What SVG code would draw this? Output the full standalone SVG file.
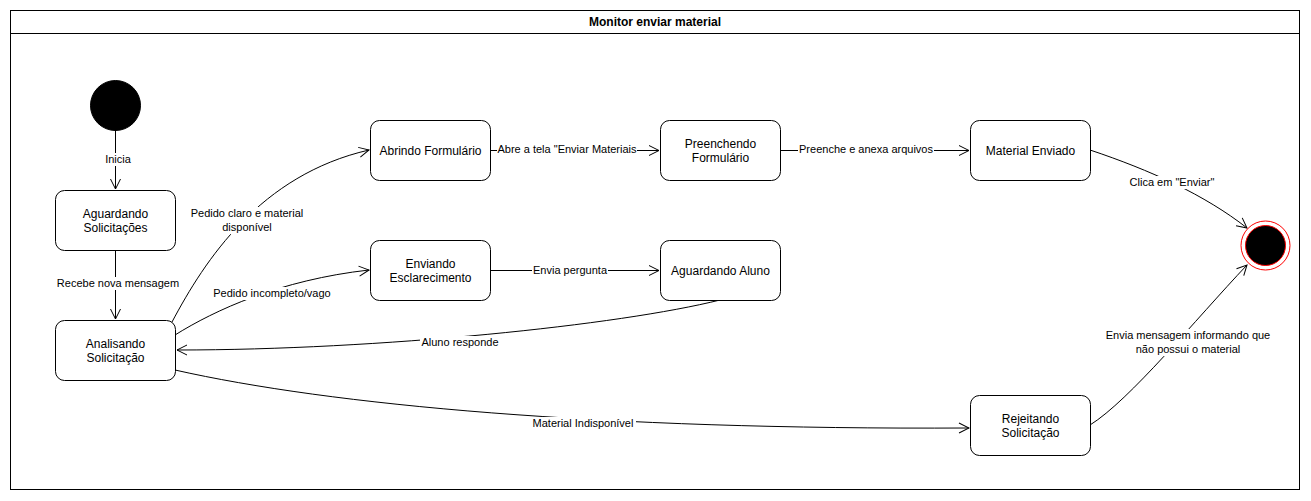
<svg xmlns="http://www.w3.org/2000/svg" width="1311" height="501" viewBox="0 0 1311 501">
<style>
.n{fill:#fff;stroke:#000;stroke-width:1}
.t{font-family:"Liberation Sans",Arial,sans-serif;font-size:12px;text-anchor:middle;fill:#000}
.l{font-family:"Liberation Sans",Arial,sans-serif;font-size:11px;text-anchor:middle;fill:#000}
.b{fill:#fff;stroke:none}
.e{fill:none;stroke:#000;stroke-width:1;marker-end:url(#a)}
</style>
<defs>
<marker id="a" markerUnits="userSpaceOnUse" markerWidth="12" markerHeight="12" refX="10" refY="5" orient="auto" viewBox="-1 -1 12 12">
<path d="M0,0 L10,5 L0,10" fill="none" stroke="#000" stroke-width="1"/>
</marker>
</defs>
<rect width="1311" height="501" fill="#fff"/>
<g id="frame">
<rect x="10.5" y="10.5" width="1289" height="479" fill="none" stroke="#000"/>
<line x1="10.5" y1="33.5" x2="1299.5" y2="33.5" stroke="#000"/>
<text x="655" y="26" class="t" style="font-weight:bold">Monitor enviar material</text>
</g>
<g id="connectors">
<path class="e" d="M115.5,130 L115.5,189"/>
<path class="e" d="M115.5,250 L115.5,319"/>
<path class="e" d="M172,322 C205,260 260,175 369,150"/>
<path class="e" d="M175,335 C215,310 280,280 369,270"/>
<path class="e" d="M720,300 C620,325 380,350 177,350"/>
<path class="e" d="M175,370 C330,405 600,430 969,428"/>
<path class="e" d="M490,150.5 L659,150.5"/>
<path class="e" d="M780,150.5 L969,150.5"/>
<path class="e" d="M490,270.5 L659,270.5"/>
<path class="e" d="M1090,150 C1150,170 1205,195 1247,228"/>
<path class="e" d="M1090,425 C1130,400 1195,320 1247,265"/>
<rect class="b" x="103" y="153" width="30" height="13"/>
<rect class="b" x="56" y="277" width="124" height="13"/>
<rect class="b" x="188" y="207" width="118" height="27"/>
<rect class="b" x="212" y="287" width="120" height="13"/>
<rect class="b" x="420" y="336" width="80" height="13"/>
<rect class="b" x="530" y="417" width="106" height="13"/>
<rect class="b" x="497" y="143" width="140" height="13"/>
<rect class="b" x="798" y="143" width="136" height="13"/>
<rect class="b" x="532" y="264" width="76" height="13"/>
<rect class="b" x="1128" y="176" width="88" height="13"/>
<rect class="b" x="1105" y="329" width="166" height="27"/>
<text class="l" x="118" y="163">Inicia</text>
<text class="l" x="118" y="287">Recebe nova mensagem</text>
<text class="l" x="247" y="217">Pedido claro e material</text>
<text class="l" x="247" y="231">disponível</text>
<text class="l" x="272" y="297">Pedido incompleto/vago</text>
<text class="l" x="460" y="346">Aluno responde</text>
<text class="l" x="583" y="427">Material Indisponível</text>
<text class="l" x="567" y="153">Abre a tela "Enviar Materiais</text>
<text class="l" x="866" y="153">Preenche e anexa arquivos</text>
<text class="l" x="570" y="274">Envia pergunta</text>
<text class="l" x="1172" y="186">Clica em "Enviar"</text>
<text class="l" x="1188" y="339">Envia mensagem informando que</text>
<text class="l" x="1188" y="353">não possui o material</text>
</g>
<g id="inicio"><circle cx="115.5" cy="105.5" r="25" fill="#000" stroke="#000"/></g>
<g id="aguardando-solicitacoes"><rect class="n" x="55.5" y="190.5" width="120" height="60" rx="9"/><text class="t" x="115.5" y="218">Aguardando</text><text class="t" x="115.5" y="232">Solicitações</text></g>
<g id="analisando"><rect class="n" x="55.5" y="320.5" width="120" height="60" rx="9"/><text class="t" x="115.5" y="348">Analisando</text><text class="t" x="115.5" y="362">Solicitação</text></g>
<g id="abrindo"><rect class="n" x="370.5" y="120.5" width="120" height="60" rx="9"/><text class="t" x="430.5" y="155">Abrindo Formulário</text></g>
<g id="preenchendo"><rect class="n" x="660.5" y="120.5" width="120" height="60" rx="9"/><text class="t" x="720.5" y="148">Preenchendo</text><text class="t" x="720.5" y="162">Formulário</text></g>
<g id="material-enviado"><rect class="n" x="970.5" y="120.5" width="120" height="60" rx="9"/><text class="t" x="1030.5" y="155">Material Enviado</text></g>
<g id="enviando"><rect class="n" x="370.5" y="240.5" width="120" height="60" rx="9"/><text class="t" x="430.5" y="268">Enviando</text><text class="t" x="430.5" y="282">Esclarecimento</text></g>
<g id="aguardando-aluno"><rect class="n" x="660.5" y="240.5" width="120" height="60" rx="9"/><text class="t" x="720.5" y="275">Aguardando Aluno</text></g>
<g id="rejeitando"><rect class="n" x="970.5" y="395.5" width="120" height="60" rx="9"/><text class="t" x="1030.5" y="423">Rejeitando</text><text class="t" x="1030.5" y="437">Solicitação</text></g>
<g id="fim"><circle cx="1265.5" cy="245.5" r="24.5" fill="#fff" stroke="#ff0000"/><circle cx="1265.5" cy="245.5" r="20" fill="#000" stroke="#ff0000"/></g>
</svg>
